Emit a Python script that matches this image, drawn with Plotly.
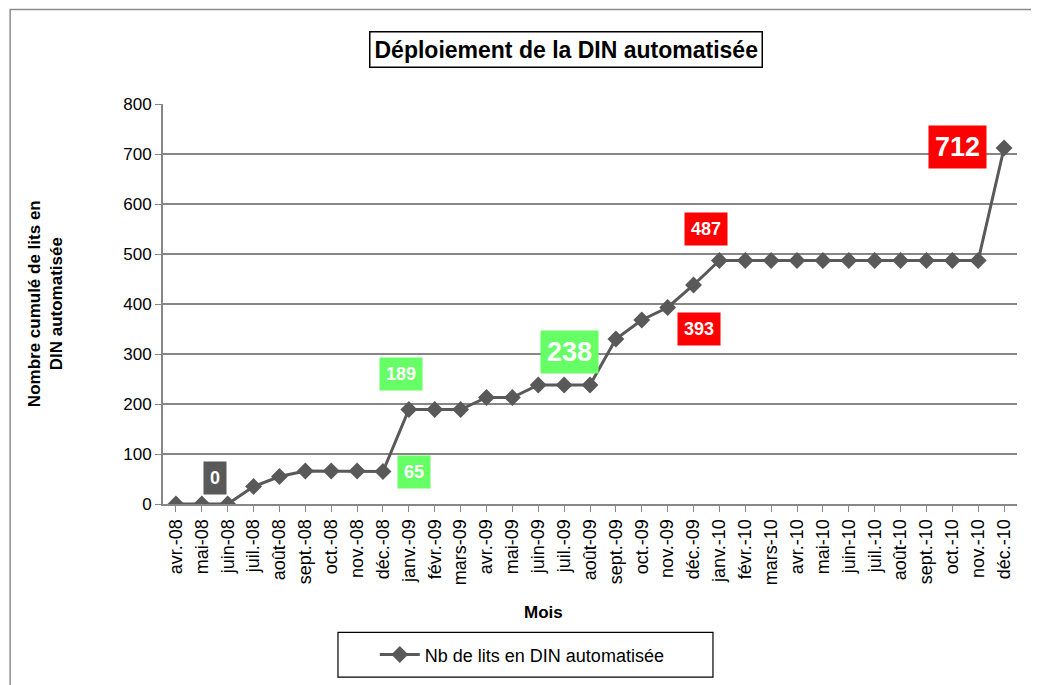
import plotly.graph_objects as go

months = ["avr.-08", "mai-08", "juin-08", "juil.-08", "août-08", "sept.-08", "oct.-08", "nov.-08", "déc.-08",
          "janv.-09", "févr.-09", "mars-09", "avr.-09", "mai-09", "juin-09", "juil.-09", "août-09", "sept.-09",
          "oct.-09", "nov.-09", "déc.-09", "janv.-10", "févr.-10", "mars-10", "avr.-10", "mai-10", "juin-10",
          "juil.-10", "août-10", "sept.-10", "oct.-10", "nov.-10", "déc.-10"]
beds = [0, 0, 0, 35, 55, 66, 66, 66, 65,
        189, 189, 189, 213, 213, 238, 238, 238, 330,
        368, 393, 438, 487, 487, 487, 487, 487, 487,
        487, 487, 487, 487, 487, 712]

series_name = "Nb de lits en DIN automatisée"
title_text = "Déploiement de la DIN automatisée"
y_ticks = [0, 100, 200, 300, 400, 500, 600, 700, 800]

# highlighted labels: (month, value shown, bg color, font size, x offset (categories), y position)
callouts = [
    ("mai-08", 0, "#595959", 18, 0.5, 52),
    ("déc.-08", 65, "#66FF66", 18, 1.2, 64),
    ("janv.-09", 189, "#66FF66", 18, -0.3, 261),
    ("juil.-09", 238, "#66FF66", 27, 0.2, 304),
    ("déc.-09", 393, "#FF0000", 18, 0.2, 350),
    ("déc.-09", 487, "#FF0000", 18, 0.5, 551),
    ("déc.-10", 712, "#FF0000", 27, -1.8, 714),
]

FONT = "Liberation Sans, Arial, sans-serif"

fig = go.Figure()
fig.add_trace(go.Scatter(
    x=list(range(len(months))), y=beds, mode="lines+markers", name=series_name,
    line=dict(color="#595959", width=3),
    marker=dict(symbol="diamond", size=13, color="#595959"),
))

for m, v, bg, fs, dx, ypos in callouts:
    fig.add_annotation(
        x=months.index(m) + dx, y=ypos, xref="x", yref="y", text="<b>%d</b>" % v,
        showarrow=False, bgcolor=bg, font=dict(color="white", size=fs, family=FONT),
        borderpad=6, xanchor="center", yanchor="middle",
    )

fig.add_annotation(
    x=0.472, y=1.137, xref="paper", yref="paper", text="<b>" + title_text + "</b>",
    showarrow=False, font=dict(size=23, color="black", family=FONT),
    bordercolor="black", borderwidth=1.5, borderpad=4, bgcolor="white",
    xanchor="center", yanchor="middle",
)
fig.add_annotation(
    x=-0.138, y=0.5, xref="paper", yref="paper",
    text="<b>Nombre cumulé de lits en<br>DIN automatisée</b>", textangle=-90,
    showarrow=False, font=dict(size=17, color="black", family=FONT),
    xanchor="center", yanchor="middle",
)
fig.add_annotation(
    x=0.446, y=-0.271, xref="paper", yref="paper", text="<b>Mois</b>",
    showarrow=False, font=dict(size=17, color="black", family=FONT),
    xanchor="center", yanchor="middle",
)

# outer chart border
fig.add_shape(type="rect", xref="paper", yref="paper",
              x0=-0.179, x1=1.04, y0=-0.47, y1=1.236,
              line=dict(color="#8C8C8C", width=1.5))
# legend frame
fig.add_shape(type="rect", xref="paper", yref="paper",
              x0=0.2049, x1=0.644, y0=-0.4328, y1=-0.3209,
              line=dict(color="black", width=1.2))

fig.update_layout(
    width=1031, height=677,
    margin=dict(l=155, r=22, t=96, b=179),
    paper_bgcolor="white", plot_bgcolor="white",
    font=dict(family=FONT, size=17, color="black"),
    showlegend=True,
    legend=dict(
        x=0.248, y=-0.377, xanchor="left", yanchor="middle", orientation="h",
        bgcolor="rgba(0,0,0,0)", borderwidth=0, font=dict(size=18, family=FONT),
        itemwidth=40,
    ),
    xaxis=dict(
        tickmode="array", tickvals=list(range(len(months))), ticktext=months,
        range=[-0.5, len(months) - 0.5], tickangle=-90,
        showline=True, linecolor="#868686", linewidth=2,
        ticks="outside", ticklen=6, tickcolor="#868686",
        showgrid=False, zeroline=False,
        tickfont=dict(size=18, family=FONT),
    ),
    yaxis=dict(
        range=[0, 800], tickvals=y_ticks,
        showline=True, linecolor="#868686", linewidth=2,
        ticks="outside", ticklen=6, tickcolor="#868686",
        showgrid=True, gridcolor="#868686", gridwidth=1.5, zeroline=False,
        tickfont=dict(size=17, family=FONT),
    ),
)

fig.write_html("out.html")
